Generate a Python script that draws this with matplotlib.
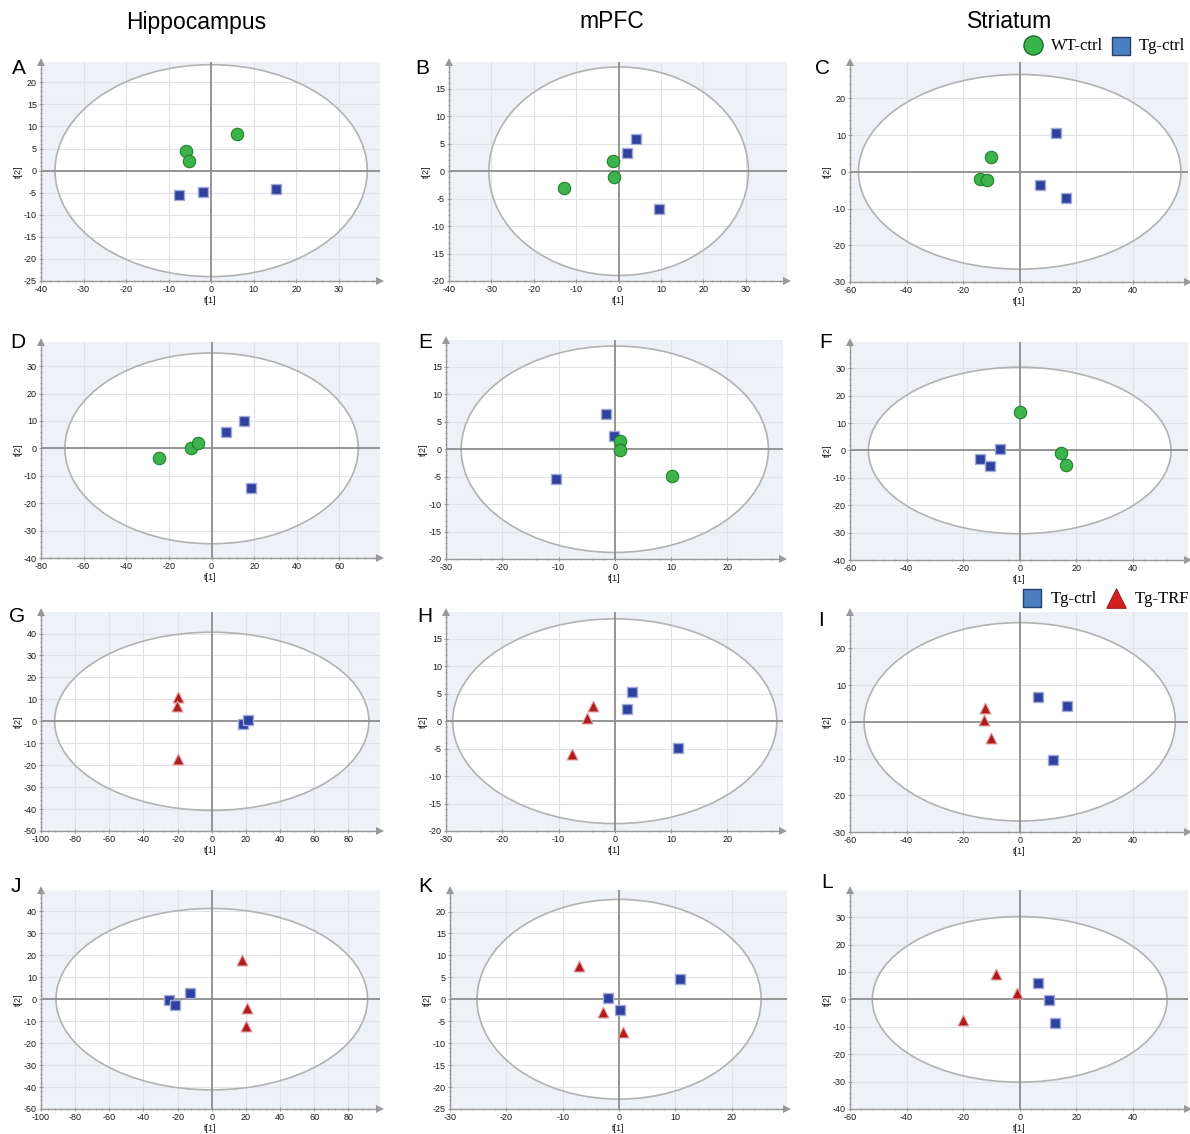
import matplotlib
matplotlib.use('Agg')
import matplotlib.pyplot as plt
from matplotlib.patches import Ellipse
from matplotlib.ticker import MultipleLocator, AutoMinorLocator

plt.rcParams['font.family'] = ['Liberation Sans', 'DejaVu Sans']
plt.rcParams['axes.unicode_minus'] = False

W, H = 1190, 1134

# scores t[1], t[2]
# row 1: WT-ctrl vs Tg-ctrl
a_wt_x = [-6.0, -5.3, 6.1]
a_wt_y = [4.5, 2.1, 8.3]
a_tg_x = [-7.6, -2.0, 15.2]
a_tg_y = [-5.6, -4.8, -4.2]

b_wt_x = [-12.9, -1.3, -1.2]
b_wt_y = [-3.0, 1.8, -1.0]
b_tg_x = [1.9, 4.0, 9.5]
b_tg_y = [3.3, 5.8, -6.9]

c_wt_x = [-10.2, -14.2, -11.6]
c_wt_y = [4.0, -1.9, -2.1]
c_tg_x = [12.7, 7.2, 16.5]
c_tg_y = [10.7, -3.6, -7.2]

# row 2: WT-ctrl vs Tg-ctrl
d_wt_x = [-24.8, -9.5, -6.4]
d_wt_y = [-3.5, 0.3, 1.8]
d_tg_x = [6.9, 15.0, 18.3]
d_tg_y = [5.9, 9.8, -14.4]

e_wt_x = [0.9, 0.9, 10.1]
e_wt_y = [1.5, -0.1, -4.8]
e_tg_x = [-10.4, -1.6, -0.1]
e_tg_y = [-5.4, 6.4, 2.5]

f_wt_x = [0.2, 14.5, 16.3]
f_wt_y = [14.0, -0.8, -5.3]
f_tg_x = [-6.8, -14.0, -10.5]
f_tg_y = [0.5, -3.0, -5.5]

# row 3: Tg-ctrl vs Tg-TRF
g_tg_x = [18.5, 21.0]
g_tg_y = [-1.2, 0.8]
g_trf_x = [-20.0, -20.5, -20.0]
g_trf_y = [11.0, 7.0, -17.0]

h_tg_x = [2.1, 3.0, 11.3]
h_tg_y = [2.2, 5.3, -4.8]
h_trf_x = [-7.6, -4.9, -3.8]
h_trf_y = [-5.9, 0.6, 2.7]

i_tg_x = [6.5, 16.7, 11.6]
i_tg_y = [6.7, 4.4, -10.4]
i_trf_x = [-12.1, -12.7, -10.2]
i_trf_y = [3.7, 0.6, -4.5]

# row 4: Tg-ctrl vs Tg-TRF
j_tg_x = [-25.0, -21.5, -12.5]
j_tg_y = [-0.5, -2.5, 3.0]
j_trf_x = [17.8, 20.8, 20.3]
j_trf_y = [18.0, -4.2, -12.0]

k_tg_x = [-1.9, 0.1, 10.9]
k_tg_y = [0.4, -2.4, 4.6]
k_trf_x = [-7.1, -2.8, 0.7]
k_trf_y = [7.6, -2.9, -7.4]

l_tg_x = [6.6, 10.3, 12.4]
l_tg_y = [5.9, -0.4, -8.7]
l_trf_x = [-20.0, -8.4, -0.9]
l_trf_y = [-7.6, 9.4, 2.3]

# Hotelling ellipse semi axes (t[1], t[2])
ell_a = (36.7, 24.0)
ell_b = (30.6, 19.0)
ell_c = (57.0, 26.5)
ell_d = (68.8, 34.8)
ell_e = (27.3, 18.8)
ell_f = (53.5, 30.4)
ell_g = (92.0, 40.6)
ell_h = (28.8, 18.65)
ell_i = (55.0, 27.0)
ell_j = (91.2, 41.3)
ell_k = (25.2, 22.75)
ell_l = (52.1, 30.2)

col_titles = ['Hippocampus', 'mPFC', 'Striatum']

WT = dict(marker='o', s=80, c='#3cb44b', edgecolors='#23802e', linewidths=0.8)
TG = dict(marker='s', s=62, c='#2f419f', edgecolors='#a3abd9', linewidths=1.0)
TRF = dict(marker='^', s=62, c='#b01c1c', edgecolors='#e2a2a2', linewidths=0.8)

fig = plt.figure(figsize=(W / 100, H / 100), dpi=100)


def px_rect(l, t, r, b):
    return [l / W, 1 - b / H, (r - l) / W, (b - t) / H]


def panel(rect, xlim, ylim, xstep, ystep, semi, groups, letter, lxy):
    ax = fig.add_axes(px_rect(*rect))
    ax.set_facecolor('#eef1f5')
    ax.set_xlim(xlim)
    ax.set_ylim(ylim)
    ax.xaxis.set_major_locator(MultipleLocator(xstep))
    ax.yaxis.set_major_locator(MultipleLocator(ystep))
    ax.xaxis.set_minor_locator(AutoMinorLocator(5))
    ax.yaxis.set_minor_locator(AutoMinorLocator(5))
    ax.set_axisbelow('line')
    ax.grid(True, which='major', color='#dfe2e6', lw=0.8)
    ax.add_patch(Ellipse((0, 0), 2 * semi[0], 2 * semi[1], facecolor='white',
                         edgecolor='none', zorder=0.3))
    ax.add_patch(Ellipse((0, 0), 2 * semi[0], 2 * semi[1], facecolor='none',
                         edgecolor='#b2b2b2', lw=1.2, zorder=2))
    ax.axhline(0, color='#8e8e8e', lw=1.3, zorder=2.1)
    ax.axvline(0, color='#8e8e8e', lw=1.3, zorder=2.1)
    for s in ['top', 'right']:
        ax.spines[s].set_visible(False)
    for s in ['left', 'bottom']:
        ax.spines[s].set_color('#999999')
        ax.spines[s].set_linewidth(1.0)
    ax.tick_params(which='both', colors='#999999', labelcolor='#1a1a1a',
                   labelsize=6.5, pad=1.5, direction='inout')
    ax.tick_params(which='major', length=3)
    ax.tick_params(which='minor', length=2)
    ax.plot(1, 0, marker='>', ms=6, mew=0, color='#999999',
            transform=ax.transAxes, clip_on=False)
    ax.plot(0, 1, marker='^', ms=6, mew=0, color='#999999',
            transform=ax.transAxes, clip_on=False)
    ax.set_xlabel('t[1]', fontsize=6.5, labelpad=1, color='#1a1a1a')
    ax.set_ylabel('t[2]', fontsize=6.5, labelpad=1, color='#1a1a1a')
    for gx, gy, st in groups:
        ax.scatter(gx, gy, zorder=3, clip_on=False, **st)
    fig.text(lxy[0] / W, 1 - lxy[1] / H, letter, fontsize=15,
             ha='center', va='center')
    return ax


panel((41, 62, 380, 281), (-40, 39.7), (-25, 24.6), 10, 5, ell_a,
      [(a_wt_x, a_wt_y, WT), (a_tg_x, a_tg_y, TG)], 'A', (19, 68))
panel((449, 62, 787, 281), (-40, 39.7), (-20, 19.9), 10, 5, ell_b,
      [(b_wt_x, b_wt_y, WT), (b_tg_x, b_tg_y, TG)], 'B', (422, 68))
panel((850, 62, 1188, 282), (-60, 59.5), (-30, 29.9), 20, 10, ell_c,
      [(c_wt_x, c_wt_y, WT), (c_tg_x, c_tg_y, TG)], 'C', (823, 68))

panel((41, 342, 380, 558), (-80, 79), (-40, 38.8), 20, 10, ell_d,
      [(d_wt_x, d_wt_y, WT), (d_tg_x, d_tg_y, TG)], 'D', (18, 343))
panel((446, 340, 783, 559), (-30, 29.9), (-20, 19.9), 10, 5, ell_e,
      [(e_tg_x, e_tg_y, TG), (e_wt_x, e_wt_y, WT)], 'E', (425, 342))
panel((850, 342, 1188, 560), (-60, 59.5), (-40, 39.6), 20, 10, ell_f,
      [(f_wt_x, f_wt_y, WT), (f_tg_x, f_tg_y, TG)], 'F', (826, 342))

panel((41, 612, 380, 831), (-100, 98.5), (-50, 49.8), 20, 10, ell_g,
      [(g_trf_x, g_trf_y, TRF), (g_tg_x, g_tg_y, TG)], 'G', (17, 616))
panel((446, 612, 783, 831), (-30, 29.9), (-20, 19.9), 10, 5, ell_h,
      [(h_trf_x, h_trf_y, TRF), (h_tg_x, h_tg_y, TG)], 'H', (425, 616))
panel((850, 612, 1188, 832), (-60, 59.5), (-30, 29.9), 20, 10, ell_i,
      [(i_trf_x, i_trf_y, TRF), (i_tg_x, i_tg_y, TG)], 'I', (821, 620))

panel((41, 890, 380, 1109), (-100, 98.5), (-50, 49.7), 20, 10, ell_j,
      [(j_tg_x, j_tg_y, TG), (j_trf_x, j_trf_y, TRF)], 'J', (16, 887))
panel((450, 890, 787, 1109), (-30, 29.8), (-25, 24.9), 10, 5, ell_k,
      [(k_trf_x, k_trf_y, TRF), (k_tg_x, k_tg_y, TG)], 'K', (425, 887))
panel((850, 890, 1188, 1109), (-60, 59.5), (-40, 39.9), 20, 10, ell_l,
      [(l_trf_x, l_trf_y, TRF), (l_tg_x, l_tg_y, TG)], 'L', (827, 883))

for name, cx in zip(col_titles, [196, 612, 1010]):
    fig.text(cx / W, 1 - 22 / H, name, fontsize=16.5, ha='center', va='center')

# legends drawn in figure pixel space
ov = fig.add_axes([0, 0, 1, 1])
ov.set_xlim(0, W)
ov.set_ylim(H, 0)
ov.axis('off')
ov.scatter([1033], [45], marker='o', s=190, c='#3ab54a', edgecolors='#1e6e2a', lw=1.0)
ov.scatter([1121], [46], marker='s', s=150, c='#4a7fc1', edgecolors='#27406a', lw=1.0)
ov.scatter([1032], [598], marker='s', s=150, c='#4a7fc1', edgecolors='#27406a', lw=1.0)
ov.scatter([1116], [598], marker='^', s=200, c='#d21f1f', edgecolors='#8a1010', lw=0.6)
leg_font = dict(family=['Liberation Serif', 'DejaVu Serif'], fontsize=12, va='center')
ov.text(1051, 46, 'WT-ctrl', **leg_font)
ov.text(1139, 46, 'Tg-ctrl', **leg_font)
ov.text(1051, 599, 'Tg-ctrl', **leg_font)
ov.text(1135, 599, 'Tg-TRF', **leg_font)

fig.savefig('out.png', dpi=100)
